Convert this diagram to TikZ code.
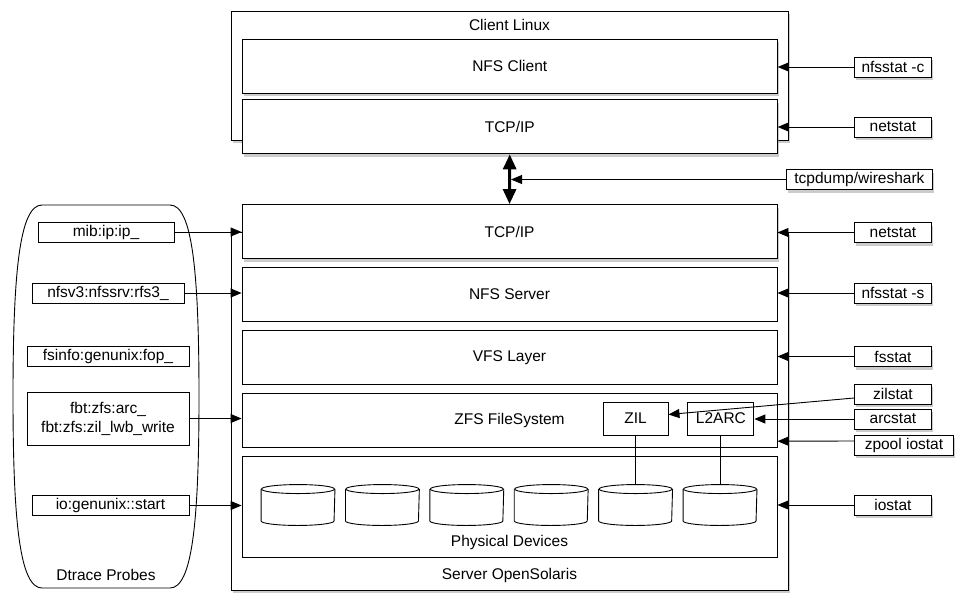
\documentclass[tikz,border=0pt]{standalone}
\usepackage{fontspec}
\setmainfont{Liberation Sans}
\usetikzlibrary{arrows.meta,positioning,shadows}

\begin{document}
\begin{tikzpicture}[x=1pt, y=-1pt,
  font=\fontsize{15.5}{19}\selectfont,
  line width=0.9pt,
  shadowed/.style={drop shadow={shadow xshift=2pt, shadow yshift=-3pt, opacity=0.4}},
  host/.style={rectangle, draw, fill=white, inner sep=0pt, minimum width=557pt},
  layer/.style={rectangle, draw, fill=white, inner sep=0pt, minimum width=535pt, minimum height=54pt},
  cache/.style={rectangle, draw, fill=white, inner sep=0pt, minimum width=66pt, minimum height=33pt},
  probe/.style={rectangle, draw, fill=white, inner sep=0pt, minimum height=20pt, align=center},
  stat/.style={rectangle, draw, fill=white, shadowed, inner sep=0pt, minimum height=20pt, minimum width=77pt, anchor=west},
  disk/.style={rectangle, inner sep=0pt, minimum width=73pt, minimum height=40pt},
  tip/.style={-{Triangle[length=11pt,width=9pt]}},
  node distance=8pt]
\useasboundingbox (0,0) rectangle (955,592);

% client side
\node[host, shadowed, minimum height=129pt, label={[anchor=center,yshift=-14.5pt]north:Client Linux}] (client) at (509.5,75.5) {};
\node[layer, shadowed] (nfsc) at (509.75,66) {NFS Client};
\node[layer, shadowed, below=6pt of nfsc] (tcpc) {TCP/IP};

% server side
\node[host, shadowed, minimum height=358pt, label={[anchor=center,yshift=15pt]south:Server OpenSolaris}] (server) at (509.5,411) {};
\node[layer, shadowed] (tcps) at (509.5,231.5) {TCP/IP};
\node[layer, below=of tcps] (nfss) {NFS Server};
\node[layer, below=of nfss] (vfs) {VFS Layer};
\node[layer, below=of vfs] (zfs) {ZFS FileSystem};
\node[layer, below=of zfs, minimum height=101pt, label={[anchor=center,yshift=15pt]south:Physical Devices}] (phys) {};

\node[cache, minimum width=65pt] (zil) at (635.5,418.5) {ZIL};
\node[cache, right=19pt of zil] (l2arc) {L2ARC};

% disks
\foreach \i in {1,...,6} {
  \node[disk] (disk\i) at ({298+84.4*(\i-1)},505) {};
  \draw[fill=white] ([yshift=-4.5pt]disk\i.north west) -- ([yshift=4.5pt]disk\i.south west)
    arc[start angle=180, end angle=360, x radius=36.5pt, y radius=4.5pt]
    -- ([yshift=-4.5pt]disk\i.north east);
  \draw ([yshift=-4.5pt]disk\i.north) ellipse [x radius=36.5pt, y radius=4.5pt];
}
\draw (zil.south) -- (zil.south |- disk5.north);
\draw (l2arc.south) -- (l2arc.south |- disk6.north);

% dtrace probes
\draw (42,205) -- (170,205) .. controls (192,205) and (199,270) .. (199,396.5)
  .. controls (199,523) and (192,588) .. (170,588) -- (42,588)
  .. controls (20,588) and (13,523) .. (13,396.5)
  .. controls (13,270) and (20,205) .. (42,205) -- cycle;
\node (dtrace) at (106,575) {Dtrace Probes};

\node[probe, minimum width=136pt] (mib) at (106,232) {mib:ip:ip\_};
\node[probe, minimum width=152pt] (nfsv3) at (108,293) {nfsv3:nfssrv:rfs3\_};
\node[probe, minimum width=162pt] (fsinfo) at (108,356) {fsinfo:genunix:fop\_};
\node[probe, minimum width=162pt, minimum height=53pt] (fbt) at (108,418.5) {fbt:zfs:arc\_\\fbt:zfs:zil\_lwb\_write};
\node[probe, minimum width=157pt] (io) at (110.5,505.5) {io:genunix::start};

\draw[tip] (mib.east) -- (mib.east -| tcps.west);
\draw[tip] (nfsv3.east) -- (nfsv3.east -| nfss.west);
\draw[tip] (fbt.east) -- (fbt.east -| zfs.west);
\draw[tip] (io.east) -- (io.east -| phys.west);

% observability tools
\node[stat] (nfsstatc) at (854,67) {nfsstat -c};
\node[stat] (netstatc) at (854,127) {netstat};
\node[stat, minimum width=146pt] (tcpdump) at (786,179.5) {tcpdump/wireshark};
\node[stat] (netstats) at (854,232.5) {netstat};
\node[stat] (nfsstats) at (854,293) {nfsstat -s};
\node[stat] (fsstat) at (854,356.5) {fsstat};
\node[stat] (zilstat) at (854,394) {zilstat};
\node[stat] (arcstat) at (854,419) {arcstat};
\node[stat, minimum width=99pt] (zpool) at (854,445) {zpool iostat};
\node[stat] (iostat) at (854,505) {iostat};

\draw[tip] (nfsstatc.west) -- (nfsstatc.west -| nfsc.east);
\draw[tip] (netstatc.west) -- (netstatc.west -| tcpc.east);
\draw[tip] (netstats.west) -- (netstats.west -| tcps.east);
\draw[tip] (nfsstats.west) -- (nfsstats.west -| nfss.east);
\draw[tip] (fsstat.west) -- (fsstat.west -| vfs.east);
\draw[tip] ([yshift=-4pt]zilstat.west) -- ([yshift=4pt]zil.east);
\draw[tip] (arcstat.west) -- (arcstat.west -| l2arc.east);
\draw[tip] ([yshift=4pt]zpool.west) -- ([yshift=-21pt]zfs.east);
\draw[tip] (iostat.west) -- (iostat.west -| phys.east);

% network link
\draw[line width=3pt, {Triangle[length=15pt,width=13pt]}-{Triangle[length=15pt,width=13pt]}] (tcpc.south) -- (tcps.north);
\coordinate (wire) at (tcpdump.west -| tcps.north);
\draw[tip] (tcpdump.west) -- ([xshift=1.5pt]wire);
\end{tikzpicture}
\end{document}
